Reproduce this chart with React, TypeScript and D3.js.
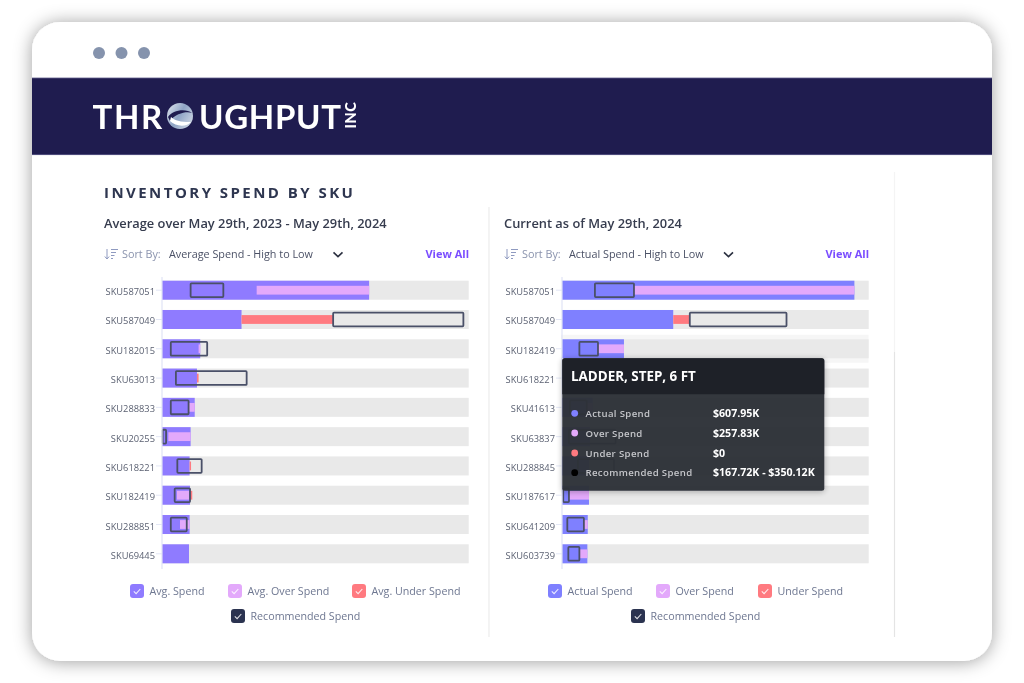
import React from "react";
import * as d3 from "d3";

type Range = [number, number] | null;

// Values in $K
const leftSkus = ["SKU587051","SKU587049","SKU182015","SKU63013","SKU288833","SKU20255","SKU618221","SKU182419","SKU288851","SKU69445"];
const leftSpend = [1013,389,187,171,160,140,135,137,135,132];
const leftOver: Range[] = [[463,1013],null,[179,187],null,[130,160],[31,140],null,[73,132],[88,135],null];
const leftUnderEnd: (number|null)[] = [null,837,null,179,null,null,142,148,null,null];
const leftRec: Range[] = [[140,300],[837,1474],[43,221],[68,414],[43,130],[3,20],[75,194],[62,137],[43,121],null];

const rightSkus = ["SKU587051","SKU587049","SKU182419","SKU618221","SKU41613","SKU63837","SKU288845","SKU187617","SKU641209","SKU603739"];
const rightSpend = [1430,544,303,186,150,137,132,132,126,124];
const rightOver: Range[] = [[352,1430],null,[176,303],null,[121,150],null,null,[34,132],[107,126],[85,124]];
const rightUnderEnd: (number|null)[] = [null,625,null,null,null,null,null,null,null,null];
const rightRec: Range[] = [[161,352],[625,1098],[85,176],[80,180],[39,121],[34,262],[78,254],[6,34],[26,107],[31,85]];

const tooltipTitle = "LADDER, STEP, 6 FT";
const tooltipLabels = ["Actual Spend","Over Spend","Under Spend","Recommended Spend"];
const tooltipValues = ["$607.95K","$257.83K","$0","$167.72K - $350.12K"];

const FONT = "'Open Sans', 'Noto Sans', sans-serif";
const PURPLE_L = "#8f7bff", PURPLE_R = "#7f80ff", OVER = "#e3a9fb", UNDER = "#ff7a80", TRACK = "#e9e9e9";
const REC = "#4a5068", NAVY = "#1f1c4f", REC_SW = "#2b3350";

function Panel({ x0, skus, spend, over, underEnd, rec, color, hover }: any) {
  const x = d3.scaleLinear().domain([0, 1500]).range([x0, x0 + 306.7]);
  const y = d3.scaleBand<string>().domain(skus).range([280.7, 563.3]).paddingInner(0.351);
  const bh = y.bandwidth();
  return (
    <g>
      {hover != null && <rect x={x0 - 1} y={y(skus[hover])! - 4.5} width={307.5} height={bh + 9} fill="#f6f6f6" />}
      {skus.map((s: string, i: number) => {
        const t = y(s)!, c = t + bh / 2;
        const o = over[i], u = underEnd[i], r = rec[i];
        return (
          <g key={s}>
            <line x1={x0 - 6} x2={x0} y1={c} y2={c} stroke="#e3e7f5" strokeWidth={1} />
            <text x={x0 - 7} y={c + 5} textAnchor="end" fontSize={9.3} fill="#5b6172" fontFamily={FONT}>{s}</text>
            <rect x={x0} y={t} width={306.7} height={bh} fill={TRACK} />
            <rect x={x0} y={t} width={x(spend[i]) - x0} height={bh} fill={color} />
            {o && <rect x={x(o[0])} y={c - 4.4} width={x(o[1]) - x(o[0])} height={8.8} fill={OVER} />}
            {u != null && <rect x={x(spend[i])} y={c - 4.4} width={x(u) - x(spend[i])} height={8.8} fill={UNDER} />}
            {r && <rect x={x(r[0])} y={c - 6.9} width={x(r[1]) - x(r[0])} height={13.8} fill="none" stroke={REC} strokeWidth={1.8} rx={0.8} />}
          </g>
        );
      })}
      <line x1={x0} x2={x0} y1={277} y2={569} stroke="#dfe3f5" strokeWidth={1.2} />
    </g>
  );
}

function Swatch({ x, y, color }: any) {
  return (
    <g>
      <rect x={x} y={y} width={14} height={14} rx={3} fill={color} />
      <path d={`M${x + 3.8} ${y + 7.4} l2.3 2.2 l4.2 -4.6`} fill="none" stroke="#fff" strokeOpacity={0.85} strokeWidth={1.1} />
    </g>
  );
}

function LegendItem({ x, y, color, label }: any) {
  return (
    <g>
      <Swatch x={x} y={y} color={color} />
      <text x={x + 19.5} y={y + 10.5} fontSize={10.7} fill="#6e7791" fontFamily={FONT}>{label}</text>
    </g>
  );
}

function SortRow({ x, label, chevronX }: any) {
  const w = x + 365;
  return (
    <g fontFamily={FONT} fontSize={10.8}>
      <g stroke="#8f9ac0" strokeWidth={1} fill="none">
        <path d={`M${x + 3} 249 v10 M${x + 0.8} 256.5 l2.2 2.5 l2.2 -2.5`} />
        <path d={`M${x + 7} 249.5 h7 M${x + 7} 252.5 h5 M${x + 7} 255.5 h3.5 M${x + 7} 258.5 h2`} />
      </g>
      <text x={x + 18} y={258} fill="#8a93ad">Sort By:</text>
      <text x={x + 65} y={258} fill="#4b5166">{label}</text>
      <path d={`M${chevronX - 4.5} 252.3 l4.5 4.3 l4.5 -4.3`} fill="none" stroke="#2b3040" strokeWidth={1.6} />
      <text x={w} y={258} textAnchor="end" fontWeight={700} fontSize={11} fill="#7a4dff">View All</text>
    </g>
  );
}

function Tooltip() {
  const dots = [PURPLE_R, OVER, UNDER, "#000"];
  const ys = [413.3, 433, 453, 472.7];
  return (
    <g fontFamily={FONT}>
      <g filter="url(#ttShadow)" opacity={0.97}>
        <rect x={562.3} y={358.3} width={262} height={132.4} rx={2.5} fill="#2f3238" />
      </g>
      <path d="M562.3 394.3 V360.8 a2.5 2.5 0 0 1 2.5 -2.5 H821.8 a2.5 2.5 0 0 1 2.5 2.5 V394.3 Z" fill="#1e2128" />
      <text x={571} y={381} fontSize={13.4} fontWeight={700} fill="#fff">{tooltipTitle}</text>
      {tooltipLabels.map((l, i) => (
        <g key={l}>
          <circle cx={574.7} cy={ys[i]} r={3.4} fill={dots[i]} />
          <text x={585.5} y={ys[i] + 3.5} fontSize={9.6} fontWeight={600} letterSpacing={0.35} fill="#c5c6ca">{l}</text>
          <text x={713} y={ys[i] + 3.7} fontSize={10.6} fontWeight={700} fill="#fff">{tooltipValues[i]}</text>
        </g>
      ))}
    </g>
  );
}

export default function App() {
  return (
    <svg width={1024} height={683} style={{ position: "absolute", left: 0, top: 0, background: "#fff", filter: "blur(0.4px)" }}>
      <defs>
        <filter id="cardShadow" x="-10%" y="-10%" width="120%" height="120%">
          <feDropShadow dx={0} dy={1} stdDeviation={9} floodColor="#000" floodOpacity={0.38} />
        </filter>
        <filter id="ttShadow" x="-10%" y="-15%" width="120%" height="130%">
          <feDropShadow dx={0} dy={1} stdDeviation={3} floodColor="#000" floodOpacity={0.3} />
        </filter>
        <clipPath id="cardClip"><rect x={32} y={22} width={960} height={639} rx={28} /></clipPath>
        <linearGradient id="globe" x1="0" y1="0" x2="1" y2="0.6">
          <stop offset="0" stopColor="#e6ebf2" />
          <stop offset="0.55" stopColor="#8ea3c4" />
          <stop offset="1" stopColor="#c5d0e0" />
        </linearGradient>
      </defs>
      <rect x={32} y={22} width={960} height={639} rx={28} fill="#fff" filter="url(#cardShadow)" />
      <g clipPath="url(#cardClip)">
        <rect x={32} y={78} width={960} height={77} fill={NAVY} />
        <line x1={32} x2={992} y1={78} y2={78} stroke="#5f5d8c" strokeWidth={0.8} />
        <line x1={32} x2={992} y1={154.6} y2={154.6} stroke="#5f5d8c" strokeWidth={0.8} />
      </g>
      {[99, 121.5, 144].map((cx) => <circle key={cx} cx={cx} cy={53} r={6} fill="#8593ad" />)}

      {/* logo */}
      <g fontFamily="Lato, sans-serif" fontWeight={700} fontSize={33} fill="#fff">
        <text x={92.5} y={128.5} letterSpacing={1.6}>THR</text>
        <text x={199} y={128.5} letterSpacing={0.7}>UGHPUT</text>
        <circle cx={180} cy={116} r={13} fill="url(#globe)" />
        <path d="M168 117 C172 110 186 108 192 113 C187 111 176 113 170 121 Z" fill={NAVY} />
        <path d="M170 121 C176 127 187 127 191 122 C186 122 176 122 171 117 Z" fill="#fff" />
        <text transform="translate(355.5,128.5) rotate(-90)" fontSize={14.5} fontWeight={900} letterSpacing={0.6}>INC</text>
      </g>

      <line x1={489} x2={489} y1={207} y2={637} stroke="#ececec" strokeWidth={1.2} />
      <line x1={894.5} x2={894.5} y1={172} y2={352} stroke="#f4f4f4" strokeWidth={1.2} />
      <line x1={894.5} x2={894.5} y1={352} y2={637} stroke="#e4e4e4" strokeWidth={1.2} />

      <text x={104} y={198} fontFamily={FONT} fontSize={15} fontWeight={700} letterSpacing={2.45} fill="#2e3650">INVENTORY SPEND BY SKU</text>
      <text x={104} y={228} fontFamily={FONT} fontSize={12.85} fontWeight={600} fill="#363c4e">Average over May 29th, 2023 - May 29th, 2024</text>
      <text x={504} y={228} fontFamily={FONT} fontSize={12.85} fontWeight={600} fill="#363c4e">Current as of May 29th, 2024</text>

      <SortRow x={104} label="Average Spend - High to Low" chevronX={338} />
      <SortRow x={504} label="Actual Spend - High to Low" chevronX={728.5} />

      <Panel x0={162} skus={leftSkus} spend={leftSpend} over={leftOver} underEnd={leftUnderEnd} rec={leftRec} color={PURPLE_L} />
      <Panel x0={562} skus={rightSkus} spend={rightSpend} over={rightOver} underEnd={rightUnderEnd} rec={rightRec} color={PURPLE_R} hover={2} />
      <Tooltip />

      <LegendItem x={130} y={584} color={PURPLE_L} label="Avg. Spend" />
      <LegendItem x={228} y={584} color={OVER} label="Avg. Over Spend" />
      <LegendItem x={352} y={584} color={UNDER} label="Avg. Under Spend" />
      <LegendItem x={231} y={609} color={REC_SW} label="Recommended Spend" />
      <LegendItem x={548} y={584} color={PURPLE_R} label="Actual Spend" />
      <LegendItem x={656} y={584} color={OVER} label="Over Spend" />
      <LegendItem x={758} y={584} color={UNDER} label="Under Spend" />
      <LegendItem x={631} y={609} color={REC_SW} label="Recommended Spend" />
    </svg>
  );
}
